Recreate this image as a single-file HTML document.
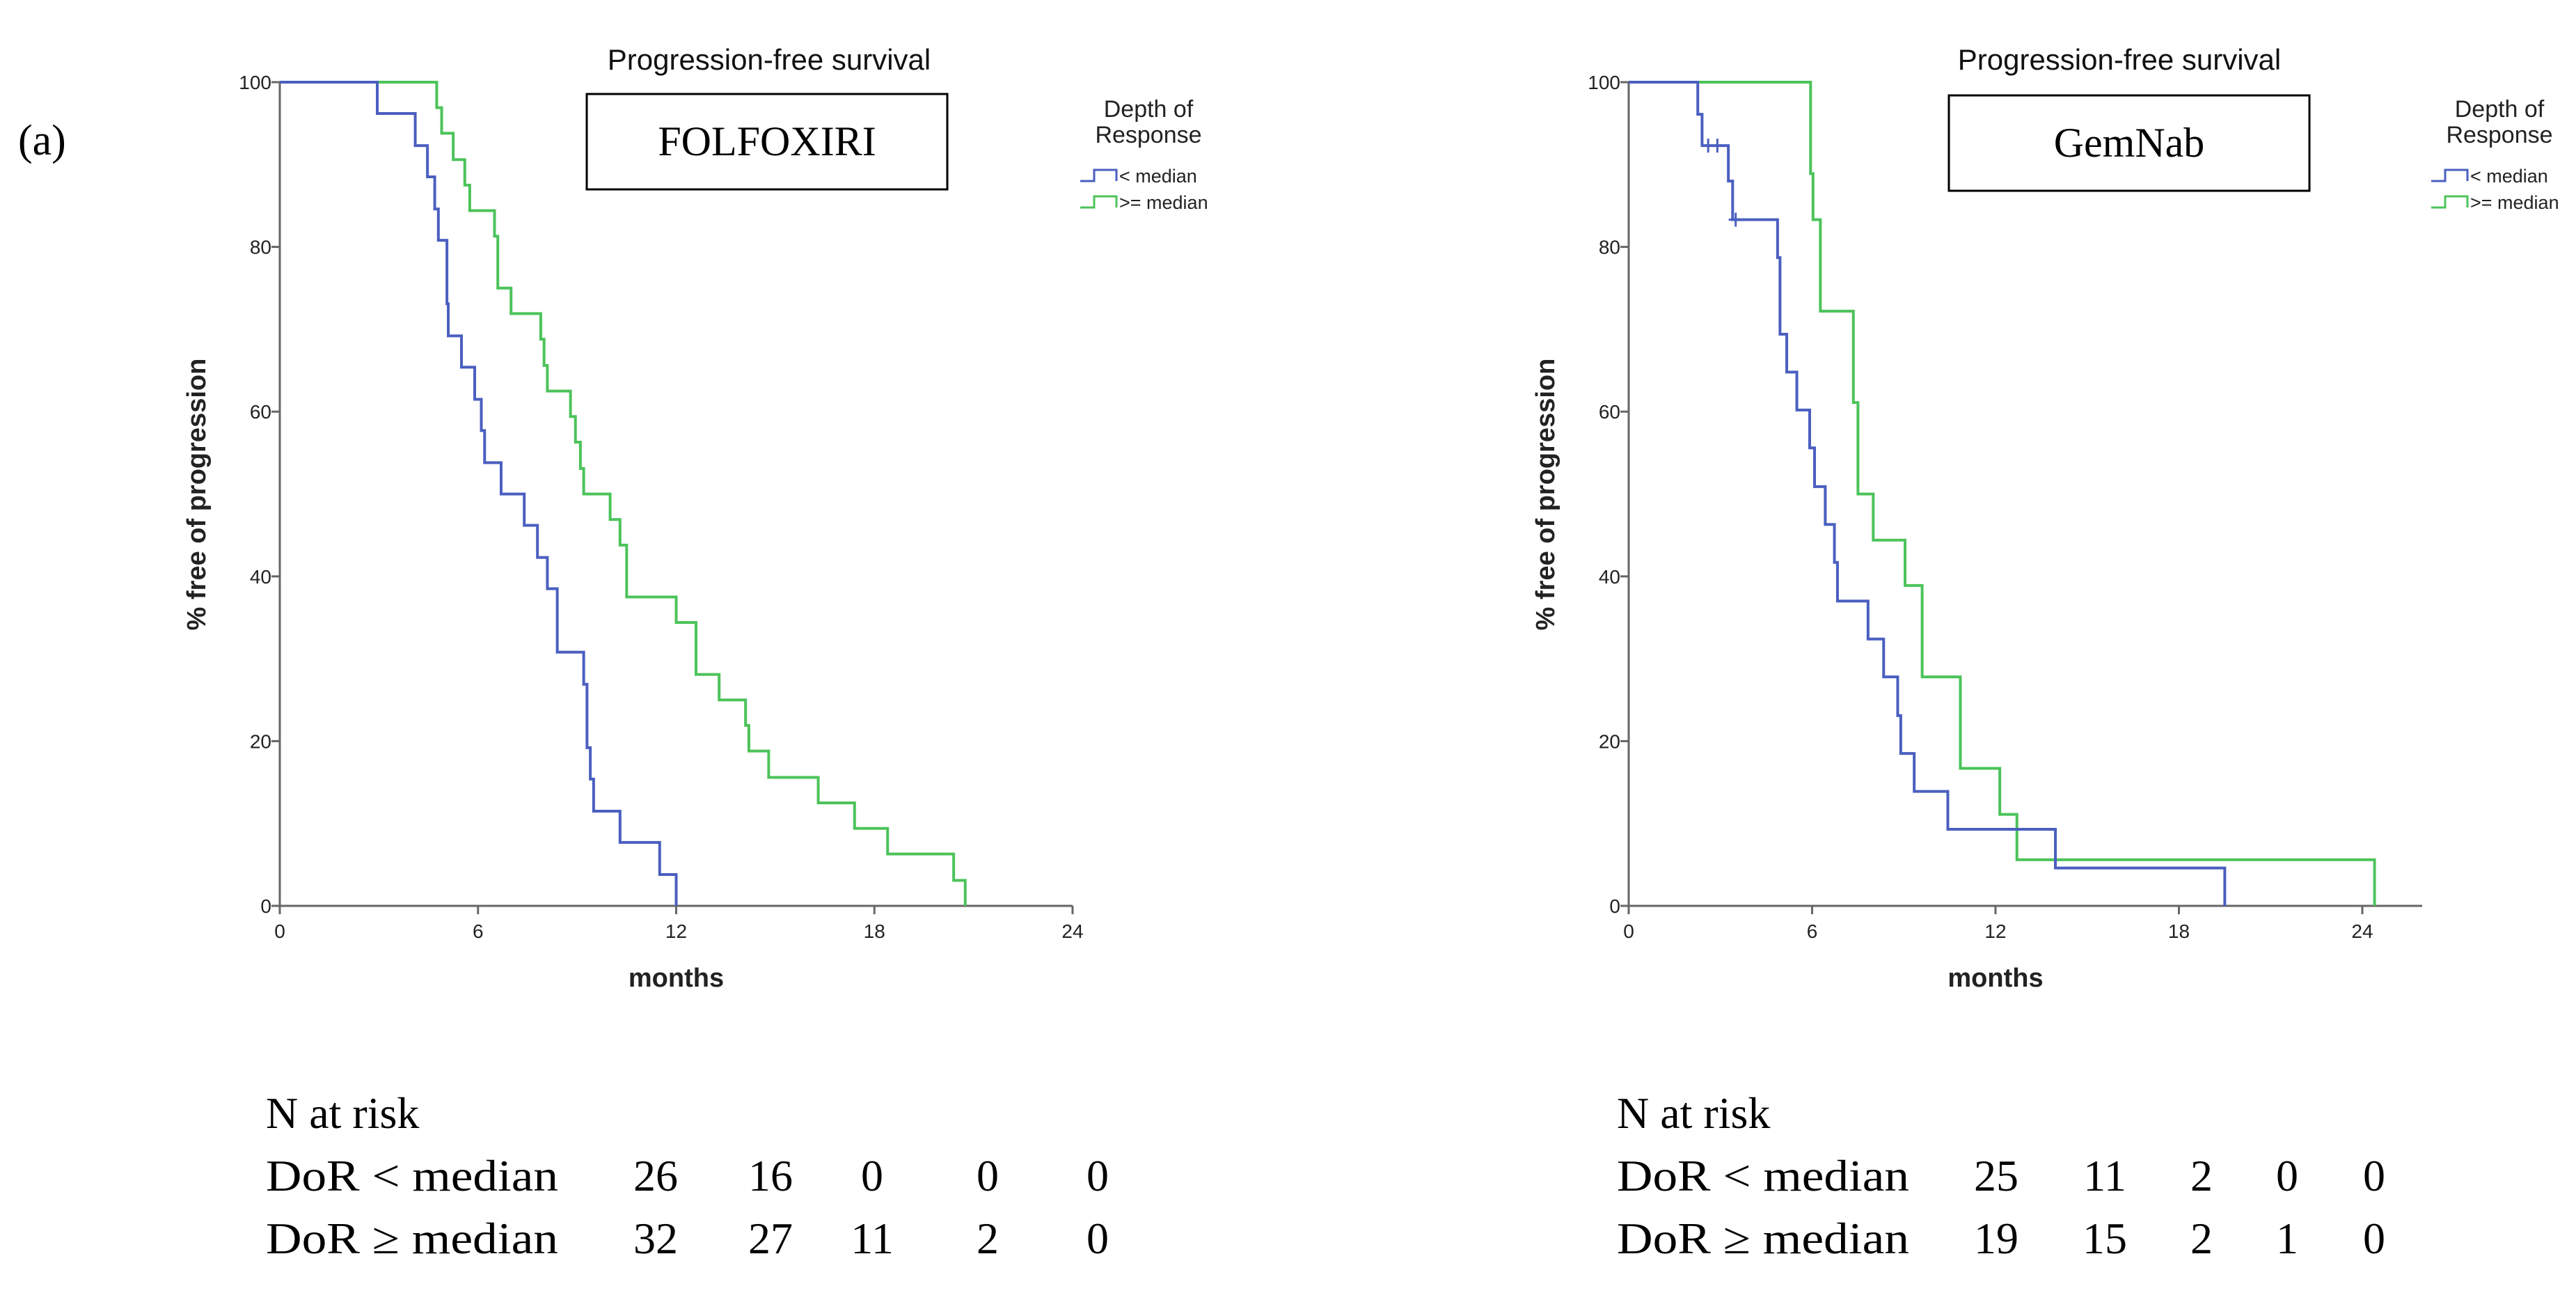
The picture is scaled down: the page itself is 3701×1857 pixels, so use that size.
<!DOCTYPE html>
<html><head><meta charset="utf-8"><style>
html,body{margin:0;padding:0;background:#fff;}
svg{display:block;}
.tk{font-family:"Liberation Sans",sans-serif;font-size:28px;fill:#222;}
.ser{font-family:"Liberation Serif",serif;fill:#000;}
</style></head><body>
<svg id="fig" width="3701" height="1857" viewBox="0 0 3701 1857" xmlns="http://www.w3.org/2000/svg">
<text class="ser" x="26" y="222" font-size="62">(a)</text>
<g id="c1"></g>
<g id="c2"></g>
</svg>
<script>
// FOLFOXIRI
const f1BlueT=[0,2.95,4.1,4.47,4.69,4.8,5.06,5.1,5.5,5.9,6.1,6.2,6.7,7.4,7.8,8.1,8.4,9.2,9.3,9.4,9.5,10.3,11.5,12.0];
const f1BlueS=[100,96.2,92.3,88.5,84.6,80.8,73.1,69.2,65.4,61.5,57.7,53.8,50,46.2,42.3,38.5,30.8,26.9,19.2,15.4,11.5,7.7,3.8,0];
const f1GreenT=[0,4.75,4.9,5.25,5.6,5.75,6.5,6.6,7.0,7.9,8.0,8.1,8.8,8.95,9.1,9.2,10.0,10.3,10.5,12.0,12.6,13.3,14.1,14.2,14.8,16.3,17.4,18.4,20.4,20.75];
const f1GreenS=[100,96.9,93.8,90.6,87.5,84.4,81.3,75,71.9,68.8,65.6,62.5,59.4,56.3,53.1,50,46.9,43.8,37.5,34.4,28.1,25,21.9,18.8,15.6,12.5,9.4,6.3,3.1,0];
const f1Risk1=["26","16","0","0","0"];
const f1Risk2=["32","27","11","2","0"];
// GemNab
const f2BlueT=[0,2.26,2.4,3.26,3.4,4.87,4.95,5.17,5.5,5.92,6.08,6.43,6.73,6.83,7.83,8.34,8.8,8.9,9.34,10.44,13.96,19.5];
const f2BlueS=[100,96.1,92.3,88,83.3,78.7,69.4,64.8,60.2,55.6,50.9,46.3,41.7,37,32.4,27.8,23.1,18.5,13.9,9.3,4.6,0];
const f2BlueCensT=[2.6,2.9,3.5];
const f2BlueCensS=[92.3,92.3,83.3];
const f2GreenT=[0,5.95,6.03,6.27,7.35,7.5,8.0,9.04,9.6,10.85,12.14,12.7,24.4];
const f2GreenS=[100,88.9,83.3,72.2,61.1,50,44.4,38.9,27.8,16.7,11.1,5.6,0];
const f2Risk1=["25","11","2","0","0"];
const f2Risk2=["19","15","2","1","0"];
const xTicks=[0,6,12,18,24];
const yTicks=[0,20,40,60,80,100];

const NS="http://www.w3.org/2000/svg";
function mk(p,tag,at,txt){const e=document.createElementNS(NS,tag);for(const k in at)e.setAttribute(k,at[k]);if(txt!==undefined)e.textContent=txt;p.appendChild(e);return e;}

function chart(g,o){
  const X=t=>o.x0+(o.x24-o.x0)*t/24, Y=s=>o.y0+(o.y100-o.y0)*s/100;
  let e;
  e=mk(g,'line',{x1:X(0),y1:Y(100),x2:X(0),y2:Y(0),stroke:'#666','stroke-width':3});
  
  
  e=mk(g,'line',{x1:X(0),y1:Y(0),x2:o.xEnd,y2:Y(0),stroke:'#666','stroke-width':3});
  
  
  yTicks.forEach(v=>{
    mk(g,'line',{x1:X(0)-12,y1:Y(v),x2:X(0),y2:Y(v),stroke:'#666','stroke-width':3});
    e=mk(g,'text',{class:'tk',x:X(0)-12,y:Y(v)+10,'text-anchor':'end'},String(v));
    
    
  });
  xTicks.forEach(v=>{
    mk(g,'line',{x1:X(v),y1:Y(0),x2:X(v),y2:Y(0)+12,stroke:'#666','stroke-width':3});
    e=mk(g,'text',{class:'tk',x:X(v),y:Y(0)+46,'text-anchor':'middle'},String(v));
    
    
  });
  e=mk(g,'text',{x:(X(0)+X(24))/2,y:1417,'text-anchor':'middle','font-family':'Liberation Sans,sans-serif','font-weight':'bold','font-size':38,fill:'#222'},'months');
  
  
  e=mk(g,'text',{x:0,y:0,transform:`translate(${o.ylx},710) rotate(-90)`,'text-anchor':'middle','font-family':'Liberation Sans,sans-serif','font-weight':'bold','font-size':38,fill:'#222'},'% free of progression');
  
  
  e=mk(g,'text',{x:o.tx,y:100,'text-anchor':'middle','font-family':'Liberation Sans,sans-serif','font-size':42,fill:'#111'},'Progression-free survival');
  
  
  e=mk(g,'rect',{x:o.bx,y:o.by,width:518,height:137,fill:'none',stroke:'#000','stroke-width':3});
  
  
  e=mk(g,'text',{class:'ser',x:o.bx+259,y:o.by+88,'text-anchor':'middle','font-size':60},o.name);
  
  
  // legend
  const lx=o.lx;
  e=mk(g,'text',{x:lx+98,y:168,'text-anchor':'middle','font-family':'Liberation Sans,sans-serif','font-size':34,fill:'#222'},'Depth of');
  
  
  mk(g,'text',{x:lx+98,y:205,'text-anchor':'middle','font-family':'Liberation Sans,sans-serif','font-size':34,fill:'#222'},'Response');
  [['#4a5fc0','< median',252],['#4cc35a','>= median',290]].forEach(([c,l,yy])=>{
    const le=mk(g,'g',{});
    
    
    mk(le,'path',{d:`M${lx} ${yy+8} H${lx+20} V${yy-8} H${lx+52} V${yy+8}`,fill:'none',stroke:c,'stroke-width':3});
    mk(le,'text',{x:lx+56,y:yy+10,'font-family':'Liberation Sans,sans-serif','font-size':27,fill:'#222'},l);
  });
  // curves
  function curve(T,S,c,name){
    let d=`M${X(T[0])} ${Y(S[0])}`;
    for(let i=1;i<T.length;i++){d+=` H${X(T[i])} V${Y(S[i])}`;}
    const p=mk(g,'path',{d,fill:'none',stroke:c,'stroke-width':4});
    
    
  }
  curve(o.gt,o.gs,'#4cc35a','curve-dor-ge-median');
  curve(o.bt,o.bs,'#4a5fc0','curve-dor-lt-median');
  if(o.ct){o.ct.forEach((t,i)=>{
    const c=mk(g,'path',{d:`M${X(t)-10} ${Y(o.cs[i])} H${X(t)+10} M${X(t)} ${Y(o.cs[i])-10} V${Y(o.cs[i])+10}`,stroke:'#4a5fc0','stroke-width':3});
    
    
  });}
  // risk table
  const rt=mk(g,'g',{});
  
  
  mk(rt,'text',{class:'ser',x:o.rx,y:1620,'font-size':64},'N at risk');
  mk(rt,'text',{class:'ser',x:o.rx,y:1710,'font-size':64,textLength:420,lengthAdjust:'spacingAndGlyphs'},'DoR < median');
  mk(rt,'text',{class:'ser',x:o.rx,y:1800,'font-size':64,textLength:420,lengthAdjust:'spacingAndGlyphs'},'DoR \u2265 median');
  o.r1.forEach((v,i)=>{mk(rt,'text',{class:'ser',x:o.cols[i],y:1710,'font-size':64,'text-anchor':'middle'},v);});
  o.r2.forEach((v,i)=>{mk(rt,'text',{class:'ser',x:o.cols[i],y:1800,'font-size':64,'text-anchor':'middle'},v);});
}
chart(document.getElementById('c1'),{x0:402,x24:1541,xEnd:1541,y0:1301,y100:118,ylx:295,tx:1105,bx:843,by:135,name:'FOLFOXIRI',lx:1552,
  bt:f1BlueT,bs:f1BlueS,gt:f1GreenT,gs:f1GreenS,rx:382,cols:[942,1107,1253,1419,1577],r1:f1Risk1,r2:f1Risk2});
chart(document.getElementById('c2'),{x0:2340,x24:3394,xEnd:3480,y0:1301,y100:118,ylx:2233,tx:3045,bx:2800,by:137,name:'GemNab',lx:3493,
  bt:f2BlueT,bs:f2BlueS,gt:f2GreenT,gs:f2GreenS,ct:f2BlueCensT,cs:f2BlueCensS,rx:2323,cols:[2868,3024,3163,3286,3411],r1:f2Risk1,r2:f2Risk2});
</script>
</body></html>
